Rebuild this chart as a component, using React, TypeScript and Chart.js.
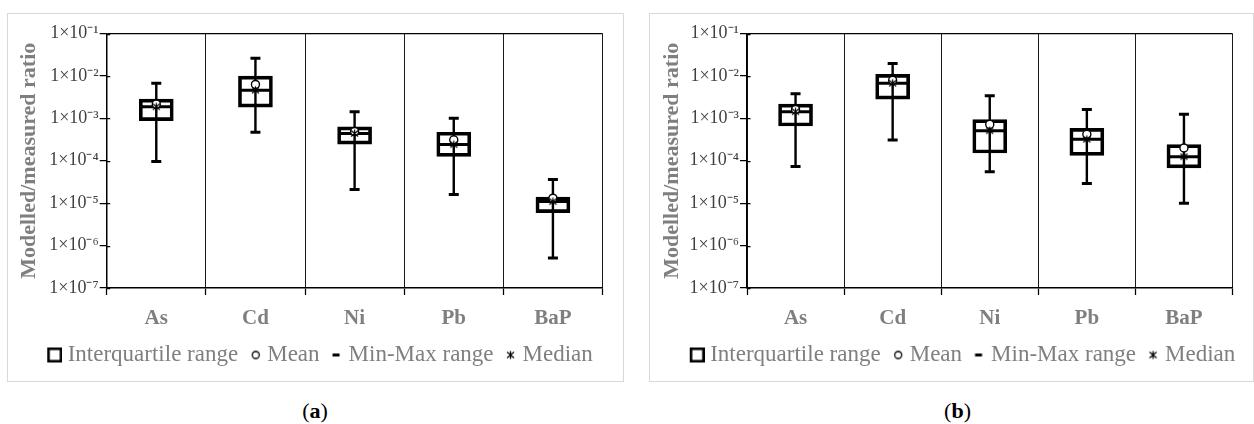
import React, { useEffect, useRef } from 'react';
import { Chart, registerables } from 'chart.js';

Chart.register(...registerables);

// ---------- data ----------
const categories = ['As', 'Cd', 'Ni', 'Pb', 'BaP'];
const yTickValues = [1e-7, 1e-6, 1e-5, 1e-4, 1e-3, 1e-2, 1e-1];
const yTickLabels = ['1×10⁻⁷', '1×10⁻⁶', '1×10⁻⁵', '1×10⁻⁴', '1×10⁻³', '1×10⁻²', '1×10⁻¹'];
const legendLabels = ['Interquartile range', 'Mean', 'Min-Max range', 'Median'];
const axisTitle = 'Modelled/measured ratio';

// panel (a)
const minA = [9.6e-5, 4.7e-4, 2.1e-5, 1.6e-5, 5.1e-7];
const q1A = [8.8e-4, 1.84e-3, 2.47e-4, 1.27e-4, 6.0e-6];
const medianA = [1.87e-3, 4.6e-3, 4.4e-4, 2.4e-4, 1.09e-5];
const q3A = [2.83e-3, 9.9e-3, 6.3e-4, 4.7e-4, 1.4e-5];
const maxA = [6.7e-3, 2.6e-2, 1.43e-3, 1.0e-3, 3.6e-5];
const meanA = [2.16e-3, 6.3e-3, 4.9e-4, 3.1e-4, 1.31e-5];

// panel (b)
const minB = [7.3e-5, 3.1e-4, 5.5e-5, 2.9e-5, 1.0e-5];
const q1B = [6.6e-4, 2.83e-3, 1.52e-4, 1.34e-4, 6.8e-5];
const medianB = [1.43e-3, 6.7e-3, 5.1e-4, 3.2e-4, 1.25e-4];
const q3B = [2.16e-3, 1.09e-2, 9.3e-4, 5.8e-4, 2.39e-4];
const maxB = [3.8e-3, 1.96e-2, 3.4e-3, 1.62e-3, 1.24e-3];
const meanB = [1.62e-3, 7.9e-3, 7.2e-4, 4.2e-4, 2.0e-4];

// ---------- style ----------
const FONT = "'Liberation Serif', 'Times New Roman', serif";
const GREY = '#7f7f7f';
const LEG_FS = 23;
const BW = 12;
const WI = BW + LEG_FS - 11;
const GH = 23;

function makeStar(): HTMLCanvasElement {
  const c = document.createElement('canvas');
  c.width = 11;
  c.height = 11;
  const g = c.getContext('2d')!;
  g.strokeStyle = '#000';
  g.lineWidth = 1.2;
  g.beginPath();
  g.moveTo(5.5, 1.5); g.lineTo(5.5, 9.5);
  g.moveTo(2, 2.5); g.lineTo(9, 8.5);
  g.moveTo(9, 2.5); g.lineTo(2, 8.5);
  g.stroke();
  return c;
}

function makeGlyph(kind: string): HTMLCanvasElement {
  const c = document.createElement('canvas');
  c.width = WI;
  c.height = GH;
  const g = c.getContext('2d')!;
  const cy = GH / 2;
  g.strokeStyle = '#000';
  g.fillStyle = '#fff';
  if (kind === 'box') {
    g.lineWidth = 2.6;
    g.strokeRect(WI - 15 + 1.3, cy - 7.5 + 1.3, 15 - 2.6, 15 - 2.6);
  } else if (kind === 'circle') {
    g.lineWidth = 1.3;
    g.beginPath();
    g.arc(WI - 2 - 4, cy, 3.5, 0, Math.PI * 2);
    g.fill();
    g.stroke();
  } else if (kind === 'dash') {
    g.lineWidth = 3;
    g.beginPath();
    g.moveTo(WI - 3.5 - 7, cy);
    g.lineTo(WI - 3.5, cy);
    g.stroke();
  } else {
    const cx = WI - 2.5 - 4;
    g.lineWidth = 1.2;
    g.beginPath();
    g.moveTo(cx, cy - 4); g.lineTo(cx, cy + 4);
    g.moveTo(cx - 3.5, cy - 3); g.lineTo(cx + 3.5, cy + 3);
    g.moveTo(cx + 3.5, cy - 3); g.lineTo(cx - 3.5, cy + 3);
    g.stroke();
  }
  return c;
}

const innerTicks = {
  id: 'innerTicks',
  afterDraw(chart: any) {
    const y = chart.scales.y;
    const left = chart.chartArea.left;
    const ctx = chart.ctx;
    ctx.save();
    ctx.strokeStyle = '#000';
    ctx.lineWidth = 1.25;
    ctx.beginPath();
    yTickValues.forEach((v) => {
      const py = Math.round(y.getPixelForValue(v)) + 0.5;
      ctx.moveTo(left, py);
      ctx.lineTo(left + 3.5, py);
    });
    ctx.stroke();
    ctx.restore();
  },
};

type Series = { min: number[]; q1: number[]; median: number[]; q3: number[]; max: number[]; mean: number[] };
type Geo = { left: number; width: number; padL: number; padR: number; yW: number };

function Panel({ s, geo }: { s: Series; geo: Geo }) {
  const ref = useRef<HTMLCanvasElement | null>(null);
  useEffect(() => {
    if (!ref.current) return;
    const star = makeStar();
    const glyphs = [makeGlyph('box'), makeGlyph('circle'), makeGlyph('dash'), makeGlyph('star')];
    const black = '#000';
    const chart = new Chart(ref.current, {
      type: 'bar',
      data: {
        labels: categories,
        datasets: [
          { type: 'line', label: 'Median', data: s.median, showLine: false, pointStyle: star as any, pointRadius: 5, order: 0 } as any,
          { type: 'line', label: 'Mean', data: s.mean, showLine: false, pointStyle: 'circle', pointRadius: 4, pointBorderWidth: 1.4, pointBackgroundColor: '#fff', pointBorderColor: black, order: 1 },
          { type: 'line', label: 'MedianLine', data: s.median, showLine: false, pointStyle: 'line', pointRadius: 16.5, pointBorderWidth: 3, pointBorderColor: black, order: 2 },
          { type: 'line', label: 'Max', data: s.max, showLine: false, pointStyle: 'line', pointRadius: 5, pointBorderWidth: 3, pointBorderColor: black, order: 3 },
          { type: 'line', label: 'Min', data: s.min, showLine: false, pointStyle: 'line', pointRadius: 5, pointBorderWidth: 3, pointBorderColor: black, order: 3 },
          { type: 'bar', label: 'Whisker', data: s.min.map((v, i) => [v, s.max[i]]), barThickness: 1.75, backgroundColor: black, borderWidth: 0, grouped: false, order: 4 } as any,
          { type: 'bar', label: 'IQR', data: s.q1.map((v, i) => [v, s.q3[i]]), barThickness: 34, backgroundColor: 'rgba(255,255,255,0)', borderColor: black, borderWidth: 3, borderSkipped: false, grouped: false, order: 5 } as any,
        ],
      },
      options: {
        animation: false,
        responsive: false,
        maintainAspectRatio: false,
        events: [],
        layout: { padding: { left: geo.padL, right: geo.padR, top: 17, bottom: 4.5 } },
        plugins: {
          tooltip: { enabled: false },
          legend: {
            position: 'bottom',
            align: 'center',
            onClick: () => {},
            labels: {
              usePointStyle: true,
              pointStyleWidth: BW,
              padding: 5.5,
              color: GREY,
              font: { family: FONT, size: LEG_FS },
              generateLabels: () =>
                legendLabels.map((text, i) => ({
                  text,
                  pointStyle: glyphs[i] as any,
                  fillStyle: 'rgba(0,0,0,0)',
                  strokeStyle: 'rgba(0,0,0,0)',
                  lineWidth: 0,
                  hidden: false,
                  fontColor: GREY,
                  datasetIndex: i,
                })),
            },
          },
        },
        scales: {
          x: {
            type: 'category',
            offset: true,
            afterFit: (sc: any) => { sc.height = 50; },
            grid: { offset: true, color: '#1a1a1a', lineWidth: 1, drawTicks: true, tickLength: 7, tickColor: black, tickWidth: 1.25 },
            border: { display: true, color: black, width: 1.5 },
            ticks: { color: GREY, padding: 11, maxRotation: 0, font: { family: FONT, size: 21, weight: 'bold' } },
          },
          y: {
            type: 'logarithmic',
            min: 1e-7,
            max: 1e-1,
            afterBuildTicks: (sc: any) => { sc.ticks = yTickValues.map((v) => ({ value: v })); },
            afterFit: (sc: any) => { sc.width = geo.yW; },
            ticks: {
              autoSkip: false,
              padding: 1,
              color: '#404040',
              font: { family: FONT, size: 18 },
              callback: (_v: any, i: number) => yTickLabels[i],
            },
            grid: {
              color: (c: any) => (c.tick && c.tick.value === 1e-1 ? black : 'rgba(0,0,0,0)'),
              lineWidth: 1.25,
              drawTicks: true,
              tickLength: 7,
              tickColor: black,
              tickWidth: 1.25,
            },
            border: { display: true, color: black, width: 1.5 },
            title: {
              display: true,
              text: axisTitle,
              color: GREY,
              font: { family: FONT, size: 22, weight: 'bold' },
              padding: { top: -15.5, bottom: 0 },
            },
          },
        },
      } as any,
      plugins: [innerTicks],
    });
    return () => chart.destroy();
  }, []);
  return (
    <canvas
      ref={ref}
      width={geo.width}
      height={367}
      style={{ position: 'absolute', left: geo.left, top: 14, width: geo.width, height: 367 }}
    />
  );
}

const frameStyle = (left: number, width: number): React.CSSProperties => ({
  position: 'absolute',
  left,
  top: 13,
  width,
  height: 369,
  boxSizing: 'border-box',
  border: '1px solid #d9d9d9',
  background: '#fff',
});

const captionStyle = (center: number): React.CSSProperties => ({
  position: 'absolute',
  left: center - 100,
  width: 200,
  top: 399,
  textAlign: 'center',
  fontFamily: FONT,
  fontSize: 22,
  lineHeight: '24px',
  color: '#000',
});

export default function App() {
  const a: Series = { min: minA, q1: q1A, median: medianA, q3: q3A, max: maxA, mean: meanA };
  const b: Series = { min: minB, q1: q1B, median: medianB, q3: q3B, max: maxB, mean: meanB };
  return (
    <div style={{ position: 'absolute', left: 0, top: 0, width: 1254, height: 424, background: '#fff', overflow: 'hidden' }}>
      <div style={frameStyle(7, 617)} />
      <div style={frameStyle(649, 605)} />
      <Panel s={a} geo={{ left: 8, width: 614, padL: 23.3, padR: 16.3, yW: 75.4 }} />
      <Panel s={b} geo={{ left: 650, width: 602, padL: 24.3, padR: 4.3, yW: 72.7 }} />
      <div style={captionStyle(315)}>(<b>a</b>)</div>
      <div style={captionStyle(957.5)}>(<b>b</b>)</div>
    </div>
  );
}
